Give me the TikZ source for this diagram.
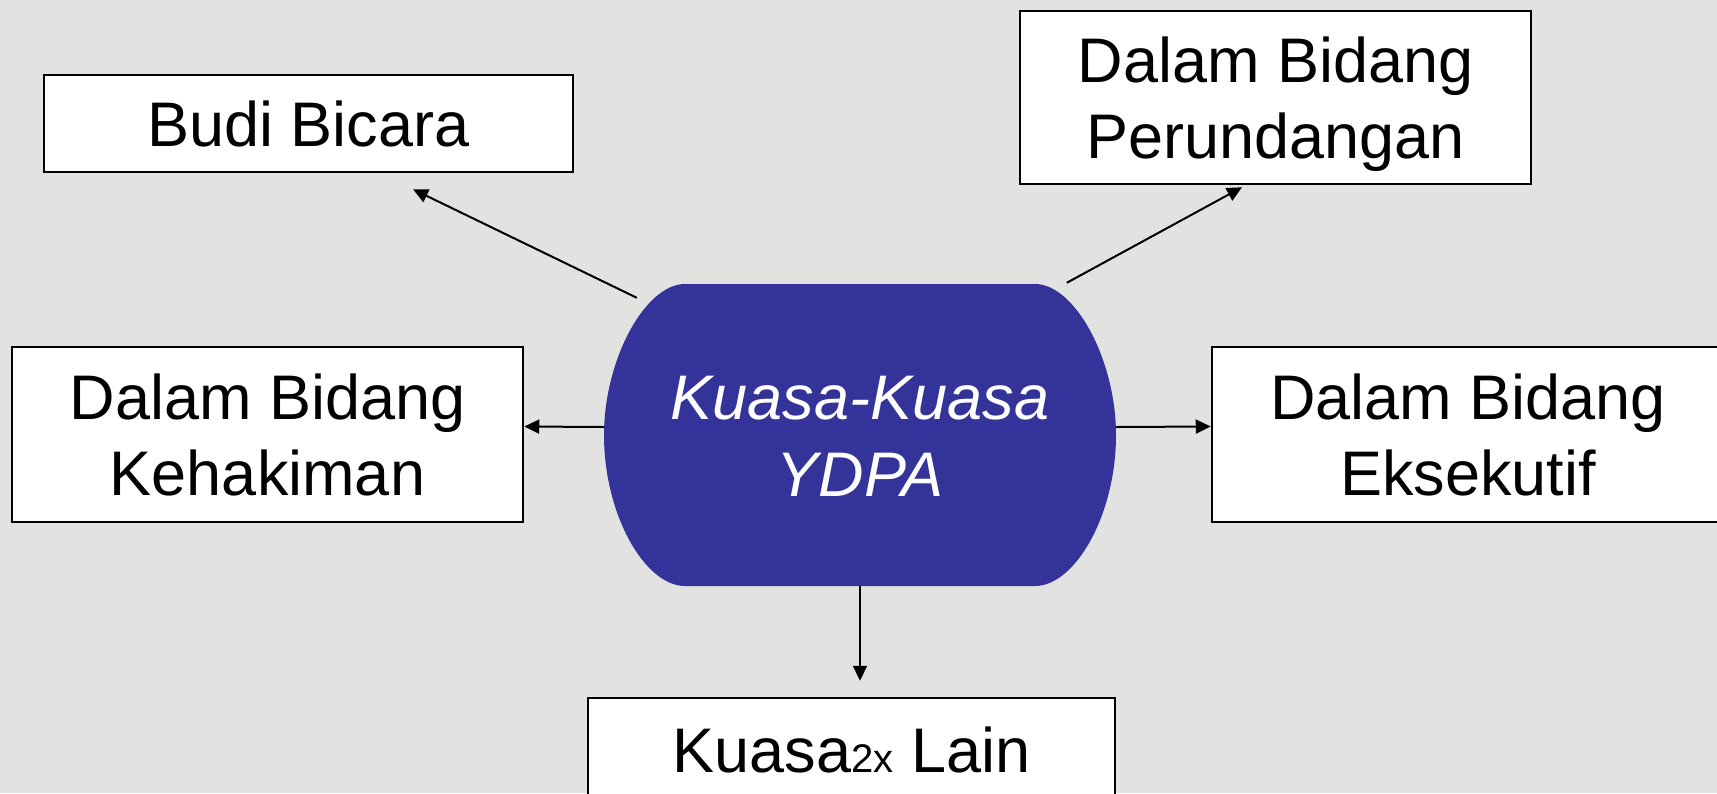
\documentclass[tikz,border=0pt]{standalone}
\usepackage{fontspec}
\setmainfont{Liberation Sans}
\usetikzlibrary{arrows.meta,calc}
\definecolor{bgcol}{RGB}{226,226,224}
\definecolor{ydpa}{RGB}{51,51,153}
\begin{document}
\begin{tikzpicture}[x=1pt,y=-1pt,
  box/.style={draw=black,line width=2.5pt,fill=white,inner sep=0pt,align=center,
    text depth=0pt,text height=46pt,font=\fontsize{63}{76}\selectfont},
  twoline/.style={text height=122pt,text depth=0pt},
  arr/.style={line width=2pt,-{Triangle[length=15pt,width=14pt]}}]
\useasboundingbox (0,0) rectangle (1717,793);
\fill[bgcol] (0,0) rectangle (1717,793);
% central shape
\fill[ydpa] (685,284) -- (1035,284)
  .. controls (1075,284) and (1116,360) .. (1116,435)
  .. controls (1116,515) and (1075,586) .. (1035,586)
  -- (685,586)
  .. controls (645,586) and (604,515) .. (604,435)
  .. controls (604,360) and (645,284) .. (685,284) -- cycle;
\node[inner sep=0pt,minimum width=512pt,minimum height=302pt,align=center,
  text depth=0pt,text height=123pt,text=white,
  font=\fontsize{63}{77}\selectfont\itshape] (c) at (860,435) {Kuasa-Kuasa\\YDPA};
% boxes
\node[box,minimum width=529pt,minimum height=97pt] (budi) at (308.5,123.5) {Budi Bicara};
\node[box,twoline,minimum width=511pt,minimum height=173pt] (perun) at (1275.5,97.5) {Dalam Bidang\\Perundangan};
\node[box,twoline,minimum width=511pt,minimum height=175pt] (keh) at (267.5,434.5) {Dalam Bidang\\Kehakiman};
\node[box,twoline,minimum width=512pt,minimum height=175pt] (eks) at (1468,434.5) {Dalam Bidang\\Eksekutif};
\node[box,minimum width=527pt,minimum height=102pt] (lain) at (851.5,749) {Kuasa{\fontsize{40}{40}\selectfont 2x} Lain};
% connector end points
\coordinate (a1s) at ($(c.north west)+(33,14)$);
\coordinate (a1e) at ($(budi.south)+(104.5,16)$);
\coordinate (a2s) at ($(c.north west)+(463,-1)$);
\coordinate (a2e) at ($(perun.south)+(-33.5,2)$);
\coordinate (a5e) at ($(lain.north)+(8.5,-16)$);
% connectors
\draw[arr] (a1s) -- (a1e);
\draw[arr] (a2s) -- (a2e);
\draw[arr] ([yshift=8pt]c.west) -- ([yshift=8pt]keh.east);
\draw[arr] ([yshift=8pt]c.east) -- ([yshift=8pt]eks.west);
\draw[arr] (c.south) -- (a5e);
\end{tikzpicture}
\end{document}
